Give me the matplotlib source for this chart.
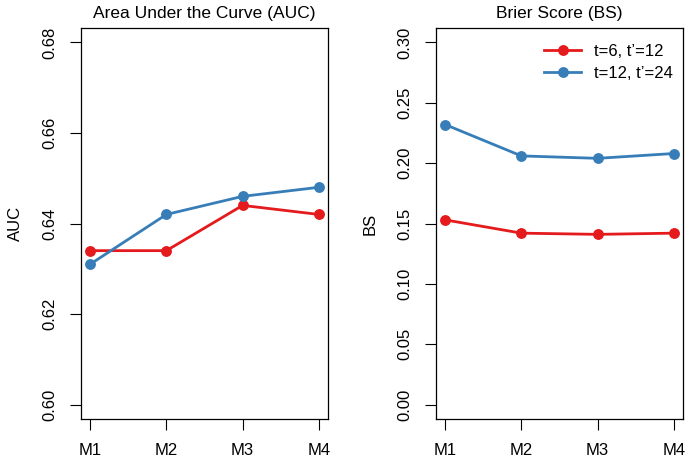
import numpy as np
from matplotlib import pyplot as plt

plt.rcParams['font.family'] = ['Liberation Sans', 'DejaVu Sans']

models = ['M1', 'M2', 'M3', 'M4']
series_labels = ['t=6, t\u2019=12', 't=12, t\u2019=24']
series_colors = ['#E41A1C', '#377EB8']

auc_t6 = [0.634, 0.634, 0.644, 0.642]
auc_t12 = [0.631, 0.642, 0.646, 0.648]
bs_t6 = [0.153, 0.142, 0.141, 0.142]
bs_t12 = [0.232, 0.206, 0.204, 0.208]

auc_ticks = [0.60, 0.62, 0.64, 0.66, 0.68]
bs_ticks = [0.00, 0.05, 0.10, 0.15, 0.20, 0.25, 0.30]

W, H = 685, 458
fig = plt.figure(figsize=(W / 100, H / 100), dpi=100)

def r_axes(left, ylab, title, ticks, fmt, data):
    ax = fig.add_axes([left / W, (H - 419) / H, 247 / W, 391 / H])
    x = np.arange(1, len(models) + 1)
    for vals, lab, col in zip(data, series_labels, series_colors):
        ax.plot(x, vals, color=col, lw=2, marker='o', ms=6.8, label=lab)
    # R style 4% padding
    ax.set_xlim(1 - 0.12, 4 + 0.12)
    lo, hi = ticks[0], ticks[-1]
    pad = (hi - lo) * 0.04
    ax.set_ylim(lo - pad, hi + pad)
    ax.set_xticks(x)
    ax.set_xticklabels(models, fontsize=12)
    ax.set_yticks(ticks)
    ax.set_yticklabels([fmt % t for t in ticks], fontsize=12, rotation=90, va='center')
    ax.tick_params(length=8, width=0.8, color='black')
    ax.tick_params(axis='x', pad=9.5)
    ax.tick_params(axis='y', pad=9)
    ax.set_ylabel(ylab, fontsize=12, labelpad=14)
    ax.set_title(title, fontsize=12.5, pad=7)
    for s in ax.spines.values():
        s.set_linewidth(0.9)
    return ax

ax1 = r_axes(81, 'AUC', 'Area Under the Curve (AUC)', auc_ticks, '%.2f', [auc_t6, auc_t12])
ax2 = r_axes(436, 'BS', 'Brier Score (BS)', bs_ticks, '%.2f', [bs_t6, bs_t12])
ax2.legend(loc='upper right', bbox_to_anchor=(1.008, 0.99), frameon=False, fontsize=12,
           handlelength=2.2, borderaxespad=0.3, labelspacing=0.45)

fig.savefig('out.png', dpi=100)
